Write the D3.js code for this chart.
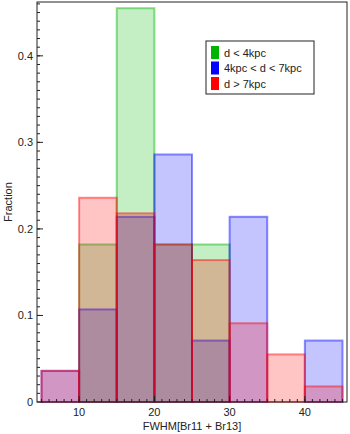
<!DOCTYPE html>
<html>
<head>
<meta charset="utf-8">
<script src="https://cdn.jsdelivr.net/npm/d3@7"></script>
<style>
  body { margin: 0; background: #fff; }
  text { font-family: "Liberation Sans", "DejaVu Sans", sans-serif; fill: #222; }
</style>
</head>
<body>
<svg id="chart" width="350" height="434"></svg>
<script>
var margin = {top: 2, right: 3, bottom: 32, left: 37},
    width = 350 - margin.left - margin.right,
    height = 434 - margin.top - margin.bottom;

// histogram bins (FWHM), width 5
var binEdges = [5, 10, 15, 20, 25, 30, 35, 40, 45];
var nearFrac = [0, 0.182, 0.455, 0.182, 0.182, 0, 0, 0];          // d < 4kpc
var midFrac  = [0.036, 0.107, 0.214, 0.286, 0.071, 0.214, 0, 0.071]; // 4 < d < 7
var farFrac  = [0.036, 0.236, 0.218, 0.182, 0.164, 0.091, 0.055, 0.018]; // d > 7kpc

var seriesNames = ["d < 4kpc", "4kpc < d < 7kpc", "d > 7kpc"];
var seriesColors = ["#00b400", "#0000ff", "#ff0000"];
var xTicks = [10, 20, 30, 40];
var yTicks = [0, 0.1, 0.2, 0.3, 0.4];

var svg = d3.select('#chart');
var g = svg.append('g').attr('transform', 'translate(' + margin.left + ',' + margin.top + ')');

var x = d3.scaleLinear().domain([4.4, 45.6]).range([0, width]);
var y = d3.scaleLinear().domain([0, 0.4622]).range([height, 0]);

var allSeries = [nearFrac, midFrac, farFrac];

allSeries.forEach((vals, si) => {
    g.append('g').selectAll('rect')
     .data(vals.map((v, i) => ({x0: binEdges[i], x1: binEdges[i + 1], v: v})).filter(d => d.v > 0))
     .enter()
     .append('rect')
     .attr('x', d => x(d.x0))
     .attr('width', d => x(d.x1) - x(d.x0))
     .attr('y', d => y(d.v))
     .attr('height', d => y(0) - y(d.v))
     .attr('fill', seriesColors[si])
     .attr('fill-opacity', 0.23)
     .attr('stroke', seriesColors[si])
     .attr('stroke-opacity', 0.45)
     .attr('stroke-width', 2);
});

// frame
g.append('rect')
 .attr('width', width).attr('height', height)
 .attr('fill', 'none').attr('stroke', '#222').attr('stroke-width', 1);

// y axis (ticks inward)
var yAxis = g.append('g');
yAxis.selectAll('line.minor')
     .data(d3.range(1, 47).map(d => d / 100))
     .enter().append('line')
     .attr('x1', 0).attr('x2', 3)
     .attr('y1', d => y(d)).attr('y2', d => y(d))
     .attr('stroke', '#222');
yAxis.selectAll('line.major')
     .data(yTicks).enter().append('line')
     .attr('x1', 0).attr('x2', 6)
     .attr('y1', d => y(d)).attr('y2', d => y(d))
     .attr('stroke', '#222');
yAxis.selectAll('text')
     .data(yTicks).enter().append('text')
     .attr('x', -4).attr('y', d => y(d)).attr('dy', '0.35em')
     .attr('text-anchor', 'end')
     .style('font-size', '11px')
     .text(d => d === 0 ? '0' : d3.format('.1f')(d));

// x axis
var xAxis = g.append('g');
xAxis.selectAll('line.minor')
     .data(d3.range(5, 46)).enter().append('line')
     .attr('x1', d => x(d)).attr('x2', d => x(d))
     .attr('y1', height).attr('y2', height - 3)
     .attr('stroke', '#222');
xAxis.selectAll('line.major')
     .data(xTicks).enter().append('line')
     .attr('x1', d => x(d)).attr('x2', d => x(d))
     .attr('y1', height).attr('y2', height - 6)
     .attr('stroke', '#222');
xAxis.selectAll('text')
     .data(xTicks).enter().append('text')
     .attr('x', d => x(d)).attr('y', height + 14)
     .attr('text-anchor', 'middle')
     .style('font-size', '11px')
     .text(d => d);

// axis titles
svg.append('text')
   .attr('x', margin.left + width / 2).attr('y', 430)
   .attr('text-anchor', 'middle')
   .style('font-size', '11px')
   .text('FWHM[Br11 + Br13]');
svg.append('text')
   .attr('transform', 'translate(12,' + (margin.top + height / 2) + ') rotate(-90)')
   .attr('text-anchor', 'middle')
   .style('font-size', '11px')
   .text('Fraction');

// legend
var legend = svg.append('g').attr('transform', 'translate(206,41)');
legend.append('rect')
      .attr('width', 108).attr('height', 53)
      .attr('fill', '#fff').attr('stroke', '#222').attr('stroke-width', 1);
seriesNames.forEach((name, i) => {
    legend.append('rect')
          .attr('x', 5).attr('y', 5 + i * 15.5)
          .attr('width', 8).attr('height', 13)
          .attr('fill', seriesColors[i]);
    legend.append('text')
          .attr('x', 18).attr('y', 15.5 + i * 15.5)
          .style('font-size', '11px')
          .text(name);
});
</script>
</body>
</html>
